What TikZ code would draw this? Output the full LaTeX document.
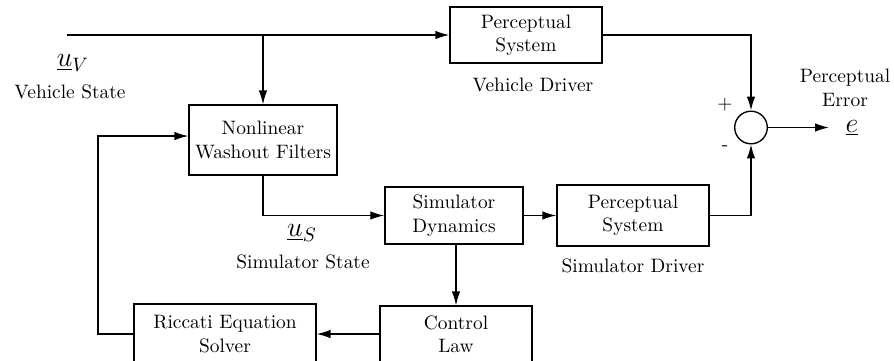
\documentclass[tikz,border=0pt]{standalone}
\usetikzlibrary{arrows.meta}
\begin{document}
\begin{tikzpicture}[x=0.515pt,y=-0.515pt,
  blk/.style={draw,line width=0.7pt,align=center,inner sep=0pt},
  sumnode/.style={draw,circle,line width=0.7pt,minimum size=16.8pt,inner sep=0pt},
  wire/.style={line width=0.7pt},
  arr/.style={wire,-{Latex[length=7.2pt,width=4.4pt]}},
  lbl/.style={inner sep=0pt,align=center},
  mlbl/.style={lbl,font=\Large}]
\useasboundingbox (0,0) rectangle (894,360);
\begin{scope}
\clip (0,0) rectangle (894,360);
% blocks
\node[blk,minimum width=78.3pt,minimum height=28.8pt] (vps) at (526,35) {Perceptual\\System};
\node[blk,minimum width=76.2pt,minimum height=36pt] (nl) at (263,140) {Nonlinear\\Washout Filters};
\node[blk,minimum width=71.1pt,minimum height=29.4pt] (sd) at (454,215.5) {Simulator\\Dynamics};
\node[blk,minimum width=78.3pt,minimum height=31.4pt] (lps) at (633,215.5) {Perceptual\\System};
\node[blk,minimum width=78.3pt,minimum height=28.8pt] (cl) at (456,334) {Control\\Law};
\node[blk,minimum width=93.7pt,minimum height=30.9pt] (ric) at (225,334) {Riccati Equation\\Solver};
\node[sumnode] (sum) at (751,127.5) {};
% labels
\node[mlbl] (uv) at (73,63) {$\underline{u}_V$};
\node[lbl] (vs) at (70,92) {Vehicle State};
\node[lbl] (vd) at (533,85) {Vehicle Driver};
\node[lbl] (pe) at (845,88) {Perceptual\\Error};
\node[mlbl] (e) at (852,128) {$\underline{e}$};
\node[lbl] (plus) at (725,105) {+};
\node[lbl] (minus) at (725,148) {-};
\node[mlbl] (us) at (302,233) {$\underline{u}_S$};
\node[lbl] (ss) at (303,262) {Simulator State};
\node[lbl] (sdr) at (633,266) {Simulator Driver};
% connectors
\coordinate (in) at (67,35);
\coordinate (br) at (263,35);
\coordinate (eout) at (829,127.5);
\coordinate (fb) at (98,136);
\draw[arr] (in) -- (vps.west);
\draw[arr] (br) -- (nl.north);
\draw[arr] (vps.east) -| (sum.north);
\draw[arr] (sum.east) -- (eout);
\draw[arr] (nl.south) |- (sd.west);
\draw[arr] (sd.east) -- (lps.west);
\draw[arr] (lps.east) -| (sum.south);
\draw[arr] (sd.south -| cl.north) -- (cl.north);
\draw[arr] (cl.west) -- (ric.east);
\draw[arr] (ric.west) -| (fb) -- (fb -| nl.west);
\end{scope}
\end{tikzpicture}
\end{document}
